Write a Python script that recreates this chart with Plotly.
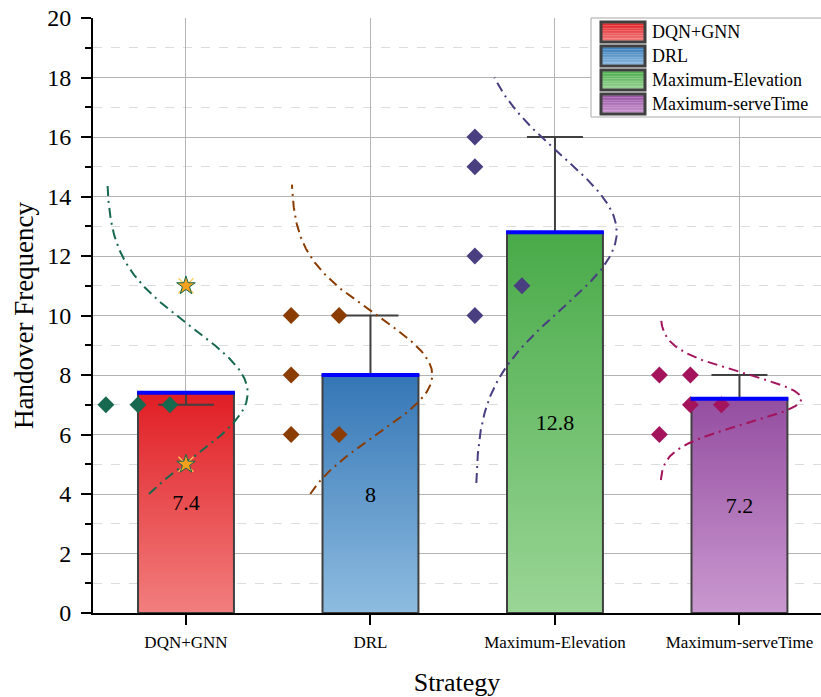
import numpy as np
import plotly.graph_objects as go

# ---------------- data ----------------
categories = ["DQN+GNN", "DRL", "Maximum-Elevation", "Maximum-serveTime"]
dqn_gnn = [7, 7, 7, 11, 5]
drl = [10, 8, 6, 10, 6]
max_elev = [16, 15, 12, 10, 11]
max_serve = [8, 6, 8, 7, 7]
series_values = [dqn_gnn, drl, max_elev, max_serve]
# which points are drawn as star (outlier-like) markers
dqn_star_flags = [False, False, False, True, True]
# error bar extents (upper / lower)
err_plus = [0.0, 2.0, 3.2, 0.8]
err_minus = [0.4, 0.0, 0.0, 0.0]
# distribution curve y extents
curve_lo = [4.0, 4.0, 4.37, 4.47]
curve_hi = [14.4, 14.4, 18.0, 9.9]
y_ticks = [0, 2, 4, 6, 8, 10, 12, 14, 16, 18, 20]

# ---------------- styles ----------------
jitter = [
    [-0.434, -0.26, -0.087, 0.0, 0.0],
    [-0.43, -0.43, -0.43, -0.17, -0.17],
    [-0.434, -0.434, -0.434, -0.434, -0.179],
    [-0.434, -0.434, -0.266, -0.266, -0.098],
]
top_colors = ["rgb(224,30,36)", "rgb(52,118,182)", "rgb(72,170,72)", "rgb(148,78,160)"]
bot_colors = ["rgb(242,126,126)", "rgb(142,188,224)", "rgb(154,214,150)", "rgb(202,152,208)"]
point_colors = ["rgb(22,104,78)", "rgb(139,60,0)", "rgb(72,62,128)", "rgb(163,20,92)"]
FONT = "Liberation Serif"
BAR_W = 0.52
CURVE_BASE = -0.43
CURVE_AMP = 0.765

means = [float(np.mean(v)) for v in series_values]
sds = [float(np.std(v, ddof=1)) for v in series_values]
idx = list(range(len(categories)))

fig = go.Figure()

# gradient bar fills (main axes)
for i, m in enumerate(means):
    x0, x1 = i - BAR_W / 2, i + BAR_W / 2
    fig.add_trace(go.Scatter(
        x=[x0, x1, x1, x0, x0], y=[0, 0, m, m, 0], mode="lines",
        fill="toself", line=dict(width=0),
        fillgradient=dict(type="vertical", colorscale=[[0, bot_colors[i]], [1, top_colors[i]]]),
        showlegend=False, hoverinfo="skip", xaxis="x", yaxis="y"))

# bars: outline, error bars, labels (overlay axes 2)
fig.add_trace(go.Bar(
    x=idx, y=means, width=BAR_W, xaxis="x2", yaxis="y2",
    marker=dict(color="rgba(0,0,0,0)", line=dict(color="#404040", width=2)),
    error_y=dict(type="data", symmetric=False, array=err_plus, arrayminus=err_minus,
                 color="#404040", thickness=2, width=28),
    text=[f"{m:g}" for m in means], textposition="inside", insidetextanchor="middle",
    textfont=dict(family=FONT, size=22, color="black"), showlegend=False))

# distribution curves, points, mean lines (overlay axes 3)
for i, vals in enumerate(series_values):
    m, s = means[i], sds[i]
    yy = np.linspace(curve_lo[i], curve_hi[i], 200)
    xx = i + CURVE_BASE + CURVE_AMP * np.exp(-0.5 * ((yy - m) / s) ** 2)
    fig.add_trace(go.Scatter(x=xx, y=yy, mode="lines", xaxis="x3", yaxis="y3",
                             line=dict(color=point_colors[i], width=2, dash="10px,5px,2px,5px"),
                             showlegend=False, hoverinfo="skip"))

for i, vals in enumerate(series_values):
    xs = [i + j for j in jitter[i]]
    if i == 0:
        dx = [x for x, f in zip(xs, dqn_star_flags) if not f]
        dy = [v for v, f in zip(vals, dqn_star_flags) if not f]
        sx = [x for x, f in zip(xs, dqn_star_flags) if f]
        sy = [v for v, f in zip(vals, dqn_star_flags) if f]
        fig.add_trace(go.Scatter(x=sx, y=sy, mode="markers", xaxis="x3", yaxis="y3",
                                 marker=dict(symbol="x-thin-open", size=15,
                                             line=dict(color=point_colors[0], width=1.2)),
                                 showlegend=False))
        fig.add_trace(go.Scatter(x=sx, y=sy, mode="markers", xaxis="x3", yaxis="y3",
                                 marker=dict(symbol="star", size=14, color="rgb(247,160,30)",
                                             line=dict(color=point_colors[0], width=1)),
                                 showlegend=False))
    else:
        dx, dy = xs, vals
    fig.add_trace(go.Scatter(x=dx, y=dy, mode="markers", xaxis="x3", yaxis="y3",
                             marker=dict(symbol="diamond", size=13, color=point_colors[i]),
                             showlegend=False))

for i, m in enumerate(means):
    fig.add_trace(go.Scatter(x=[i - BAR_W / 2 - 0.005, i + BAR_W / 2 + 0.005], y=[m, m],
                             mode="lines", xaxis="x3", yaxis="y3",
                             line=dict(color="#0000ff", width=4),
                             showlegend=False, hoverinfo="skip"))

# ---------------- layout ----------------
XR = [-0.504, 3.442]
L, R, T, B = 93, 821, 18, 613
W, H = R - L, B - T


def px(x):
    return (x - L) / W


def py(y):
    return (B - y) / H


shapes = []
annotations = []
# legend box
shapes.append(dict(type="rect", xref="paper", yref="paper", x0=px(591), x1=px(830),
                   y0=py(117), y1=py(18), line=dict(color="#a8a8a8", width=1),
                   fillcolor="white", layer="above"))


def parse(c):
    return [int(t) for t in c[4:-1].split(",")]


for k, name in enumerate(categories):
    ytop = 22 + 24 * k
    ybot = ytop + 20
    ct, cb = parse(top_colors[k]), parse(bot_colors[k])
    nb = 12
    for b in range(nb):
        f = (b + 0.5) / nb
        col = [round(ct[c] + (cb[c] - ct[c]) * f) for c in range(3)]
        y0p = ytop + (ybot - ytop) * b / nb
        y1p = ytop + (ybot - ytop) * (b + 1) / nb
        shapes.append(dict(type="rect", xref="paper", yref="paper", x0=px(601), x1=px(645),
                           y0=py(y1p), y1=py(y0p), line=dict(width=0),
                           fillcolor=f"rgb({col[0]},{col[1]},{col[2]})", layer="above"))
    shapes.append(dict(type="rect", xref="paper", yref="paper", x0=px(601), x1=px(645),
                       y0=py(ybot), y1=py(ytop), line=dict(color="#404040", width=3),
                       fillcolor="rgba(0,0,0,0)", layer="above"))
    annotations.append(dict(text=name, xref="paper", yref="paper", x=px(650), y=py(ytop + 10),
                            xanchor="left", yanchor="middle", showarrow=False,
                            font=dict(family=FONT, size=18, color="black")))

axis_common = dict(range=XR, showgrid=False, zeroline=False, visible=False)
fig.update_layout(
    width=821, height=697,
    margin=dict(l=L, r=0, t=T, b=697 - B, autoexpand=False),
    paper_bgcolor="white", plot_bgcolor="white",
    font=dict(family=FONT, color="black"),
    xaxis=dict(range=XR, tickmode="array", tickvals=idx, ticktext=categories,
               showgrid=True, gridcolor="#b4b4b4", gridwidth=1,
               showline=True, linecolor="black", linewidth=2,
               ticks="outside", ticklen=10, tickwidth=2, tickcolor="black",
               tickfont=dict(family=FONT, size=17, color="black"), ticklabelstandoff=3,
               title=dict(text="Strategy", font=dict(family=FONT, size=26), standoff=23),
               zeroline=False, fixedrange=True),
    yaxis=dict(range=[0, 20], tickmode="array", tickvals=y_ticks,
               showgrid=True, gridcolor="#b4b4b4", gridwidth=1,
               showline=True, linecolor="black", linewidth=2,
               ticks="outside", ticklen=10, tickwidth=2, tickcolor="black",
               tickfont=dict(family=FONT, size=24, color="black"), ticklabelstandoff=5,
               minor=dict(tickmode="array", tickvals=[1, 3, 5, 7, 9, 11, 13, 15, 17, 19],
                          ticks="outside", ticklen=6, tickwidth=2, tickcolor="black",
                          showgrid=True, gridcolor="#dcdcdc", griddash="dash", gridwidth=1),
               title=dict(text="Handover Frequency", font=dict(family=FONT, size=27), standoff=6),
               zeroline=False, fixedrange=True),
    xaxis2=dict(overlaying="x", anchor="y2", **axis_common),
    yaxis2=dict(overlaying="y", anchor="x2", range=[0, 20], showgrid=False, zeroline=False, visible=False),
    xaxis3=dict(overlaying="x", anchor="y3", **axis_common),
    yaxis3=dict(overlaying="y", anchor="x3", range=[0, 20], showgrid=False, zeroline=False, visible=False),
    shapes=shapes, annotations=annotations, showlegend=False,
)

fig.write_html("out.html")
